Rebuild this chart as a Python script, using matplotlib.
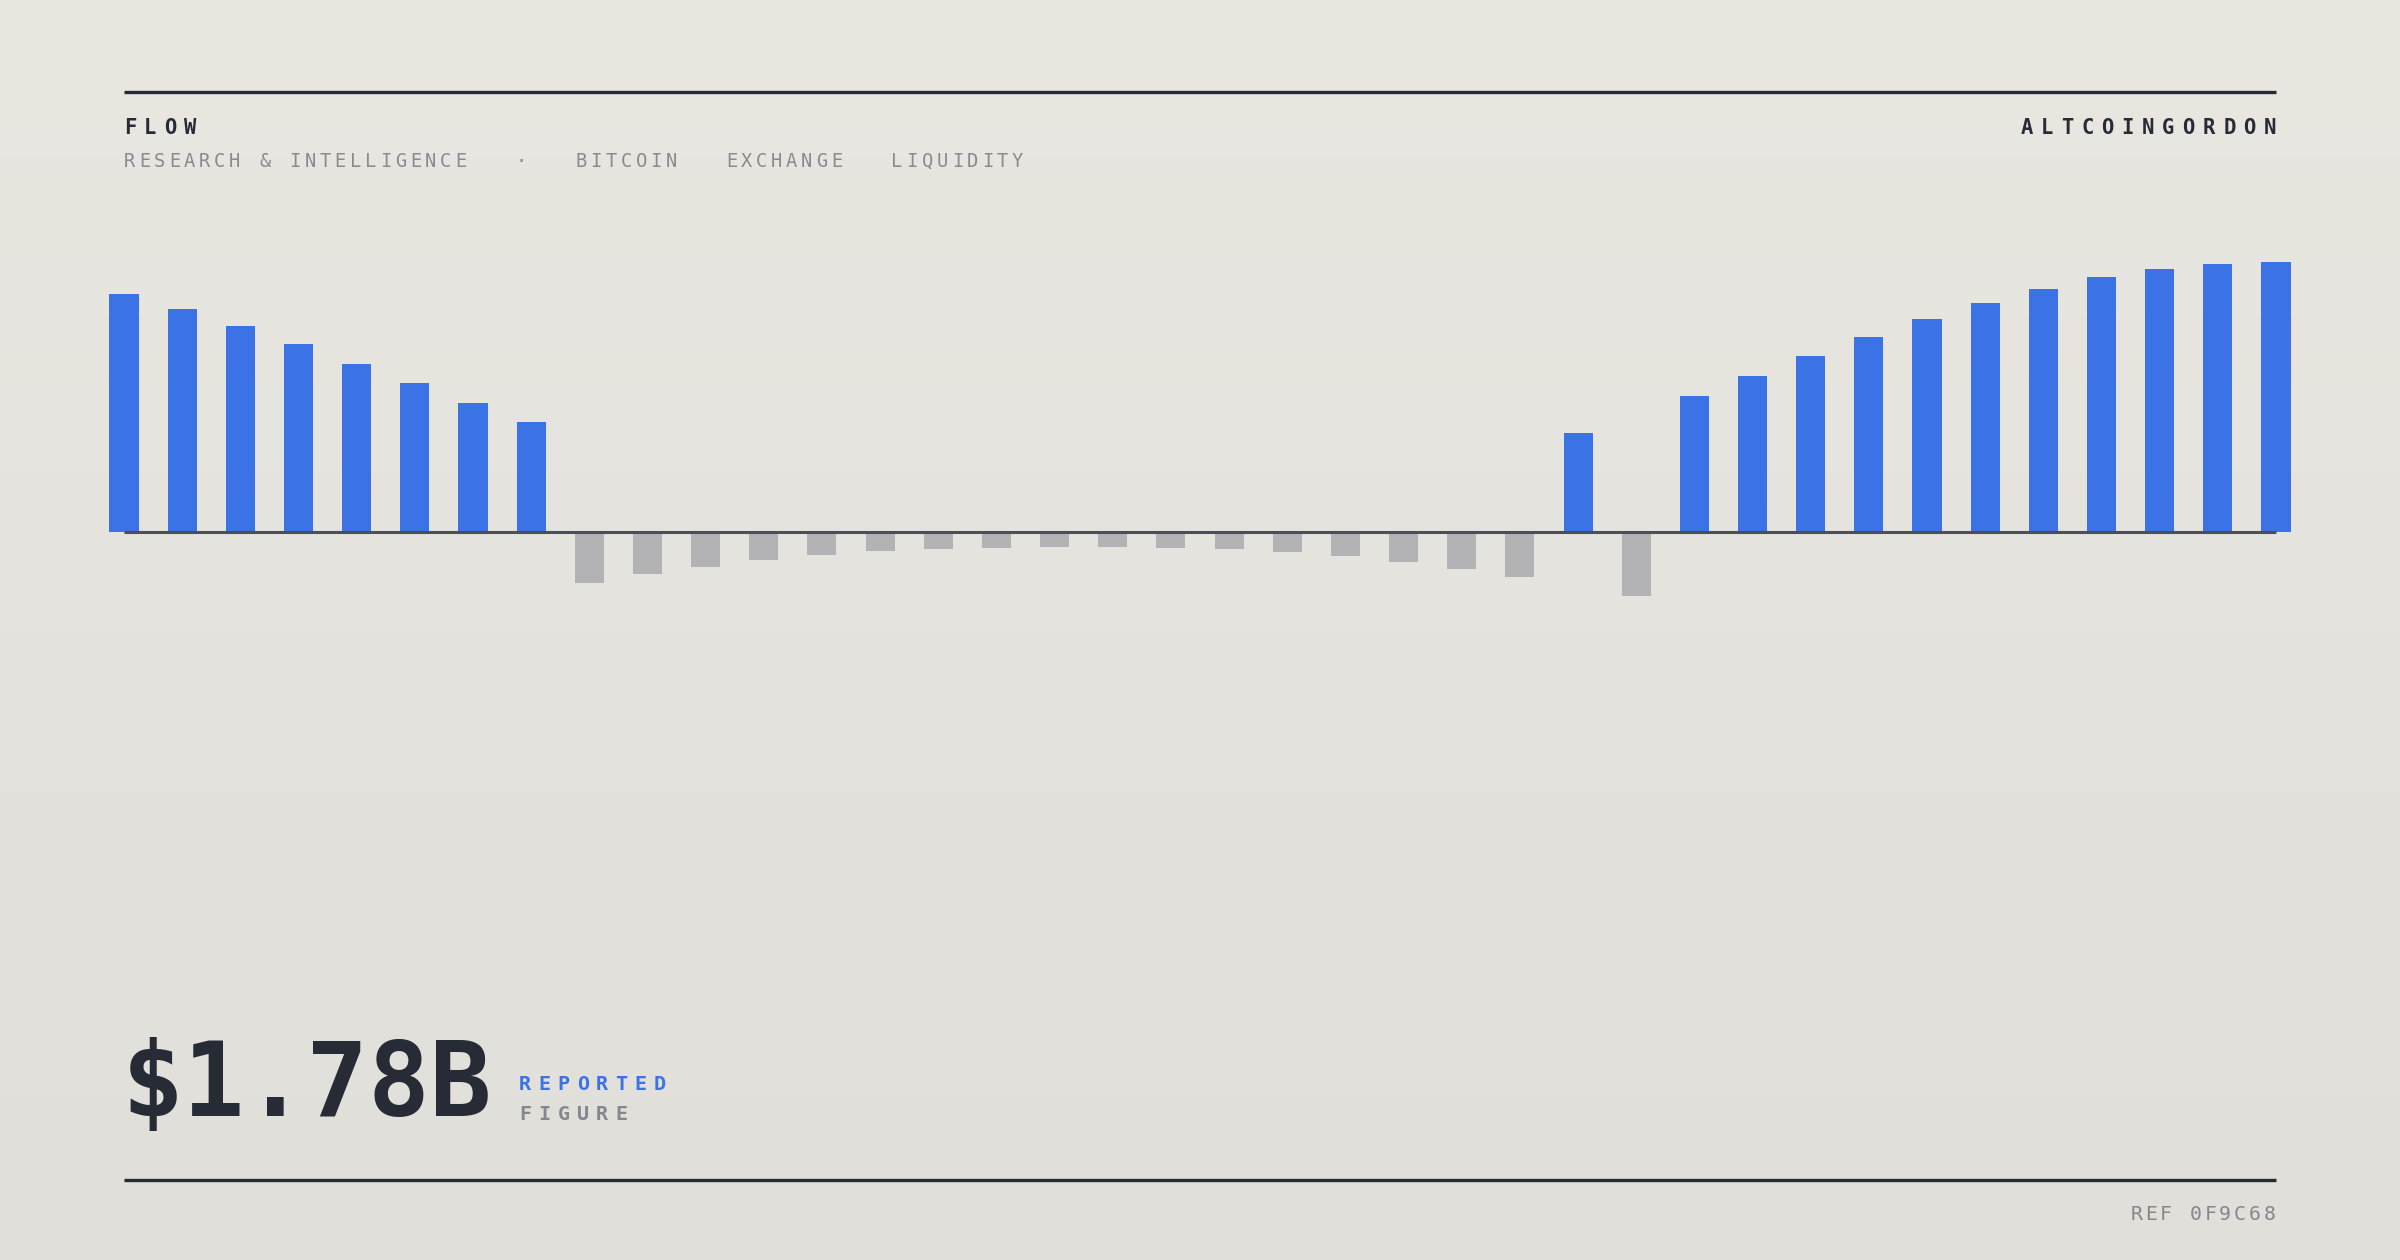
import matplotlib
matplotlib.use("Agg")
import matplotlib.pyplot as plt
import numpy as np

W, H = 2400, 1260

# bar values, left to right
flow = [238, 223, 206, 188, 168, 149, 129, 110,
        -51, -42, -35, -28, -23, -19, -17, -16, -15, -15, -16, -17, -20, -24, -30, -37, -45,
        99, -64,
        136, 156, 176, 195, 213, 229, 243, 255, 263, 268, 270]

title = "FLOW"
brand = "ALTCOINGORDON"
subtitle = "RESEARCH & INTELLIGENCE   \u00b7   BITCOIN   EXCHANGE   LIQUIDITY"
big_value = "$1.78B"
value_tag = "REPORTED"
value_sub = "FIGURE"
ref = "REF 0F9C68"

blue = "#3b72e6"
grey_bar = "#b3b3b5"
ink = "#272b35"
muted = "#86878e"
mono = "DejaVu Sans Mono"


def fx(x):
    return x / W


def fy(y):
    return 1 - y / H


def spaced(x0, y, s, adv, right=False, **kw):
    # one glyph per cell, x0 = centre of first cell (or last cell if right)
    n = len(s)
    if right:
        x0 = x0 - (n - 1) * adv
    for i, c in enumerate(s):
        if c == " ":
            continue
        fig.text(fx(x0 + i * adv), fy(y), c, ha="center", va="baseline",
                 family=mono, **kw)


fig = plt.figure(figsize=(W / 100, H / 100), dpi=100)

# background gradient
bg = fig.add_axes([0, 0, 1, 1], zorder=-10)
top = np.array([234, 231, 225]) / 255
bot = np.array([224, 223, 218]) / 255
t = np.linspace(0, 1, 256)[:, None]
grad = top[None, :] * (1 - t) + bot[None, :] * t
bg.imshow(grad[:, None, :], aspect="auto", extent=[0, 1, 0, 1])
bg.axis("off")

# bar chart
step = (2276 - 124) / 37
left = 124 - step / 2
ax = fig.add_axes([fx(left), (H - 632) / H, step * 38 / W, 400 / H])
ax.set_facecolor("none")
x = np.arange(len(flow))
colors = [blue if v > 0 else grey_bar for v in flow]
ax.bar(x, flow, width=0.5, color=colors, zorder=2)
ax.plot([0, len(flow) - 1], [0, 0], color="#4b4f57", lw=2.2, zorder=3,
        solid_capstyle="butt")
ax.set_xlim(-0.5, len(flow) - 0.5)
ax.set_ylim(-100, 300)
ax.axis("off")

# rules
for yy in (92, 1180):
    fig.add_artist(plt.Line2D([fx(124), fx(2276)], [fy(yy), fy(yy)],
                              transform=fig.transFigure, color="#262a33",
                              lw=2.4, solid_capstyle="butt"))

# header
spaced(130, 134, title, 20.0, fontsize=14.8, weight="bold", color=ink)
spaced(2270, 134, brand, 20.3, right=True, fontsize=14.8, weight="bold", color=ink)
spaced(129.5, 167, subtitle, 15.05, fontsize=13.5, color="#8a8b92")

# headline figure
fig.text(fx(122), fy(1116), big_value, ha="left", va="baseline", family=mono,
         fontsize=73.8, weight="bold", color=ink)
spaced(525, 1090, value_tag, 19.3, fontsize=14.5, weight="bold", color=blue)
spaced(525, 1120, value_sub, 19.3, fontsize=14.5, weight="bold", color=muted)

# footer
spaced(2269.5, 1220, ref, 14.8, right=True, fontsize=14.3, color=muted)

fig.savefig("out.png", dpi=100)
